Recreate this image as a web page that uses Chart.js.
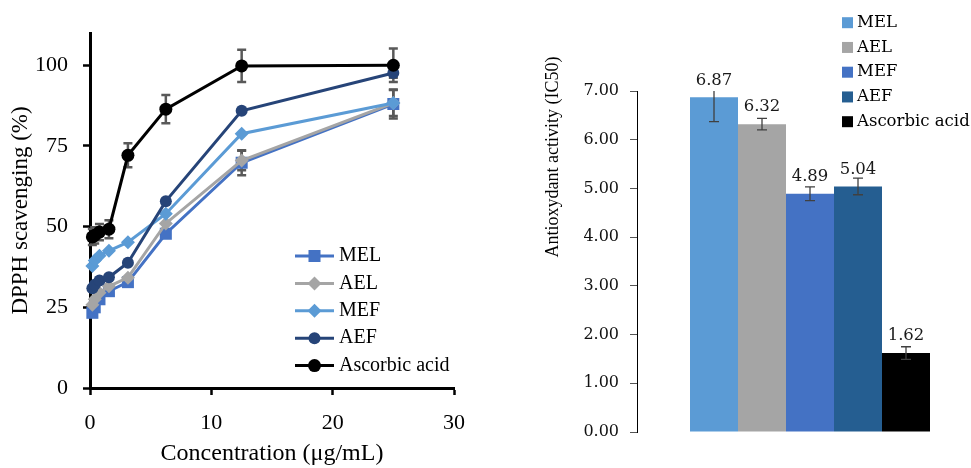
<!DOCTYPE html>
<html>
<head>
<meta charset="utf-8">
<script src="https://cdn.jsdelivr.net/npm/chart.js@4.4.0/dist/chart.umd.min.js"></script>
<style>
  html, body { margin: 0; padding: 0; background: #fff; width: 971px; height: 468px; overflow: hidden; }
  #dpph { position: absolute; left: 0; top: 0; }
  #ic50 { position: absolute; left: 530px; top: 0; }
</style>
</head>
<body>
<canvas id="dpph" width="480" height="468"></canvas>
<canvas id="ic50" width="460" height="468"></canvas>
<script>
// ---- DPPH scavenging (%) vs concentration (ug/mL)
var conc = [0.195, 0.39, 0.78, 1.56, 3.125, 6.25, 12.5, 25];
var melPct = [23.3, 25.0, 27.5, 30.0, 32.8, 47.8, 69.8, 88.0];
var aelPct = [25.8, 27.5, 29.5, 31.5, 34.2, 51.0, 70.5, 88.3];
var mefPct = [37.8, 39.5, 41.0, 42.5, 45.2, 54.0, 78.8, 88.3];
var aefPct = [30.9, 32.0, 33.3, 34.3, 38.8, 57.9, 85.9, 97.6];
var ascPct = [46.8, 47.3, 48.3, 49.2, 72.1, 86.4, 99.8, 100.0];
var melErr = [0, 0, 0, 0, 0, 0, 3.9, 4.5];
var aelErr = [0, 0, 0, 0, 0, 0, 3.0, 4.0];
var mefErr = [0, 0, 0, 0, 0, 0, 0, 0];
var aefErr = [0, 0, 0, 0, 0, 0, 0, 1.5];
var ascErr = [2.5, 2.5, 2.5, 2.8, 3.7, 4.4, 5.0, 5.2];
var dpphTicks = [0, 25, 50, 75, 100];

// ---- IC50 bars
var extracts = ['MEL', 'AEL', 'MEF', 'AEF', 'Ascorbic acid'];
var ic50 = [6.87, 6.32, 4.89, 5.04, 1.62];
var ic50Err = [0.5, 0.12, 0.14, 0.17, 0.13];
var barColors = ['#5B9BD5', '#A5A5A5', '#4472C4', '#255E91', '#000000'];

var serif = 'Liberation Serif, Times New Roman, serif';
var serif2 = 'DejaVu Serif, serif';

function pts(ys) {
  return conc.map(function (c, i) { return { x: c, y: ys[i] }; });
}

// error bars drawn through the chart's own scales
var errorBars = {
  id: 'errorBars',
  draw: function (chart, opts) {
    var ctx = chart.ctx, y = chart.scales.y, a = chart.chartArea;
    ctx.save();
    if (opts.clip) {
      ctx.beginPath();
      ctx.rect(a.left - 20, a.top, a.right - a.left + 40, a.bottom - a.top);
      ctx.clip();
    }
    ctx.strokeStyle = opts.color;
    ctx.lineWidth = opts.lineWidth;
    chart.data.datasets.forEach(function (ds, di) {
      if (!ds.errorBars) return;
      var meta = chart.getDatasetMeta(di);
      meta.data.forEach(function (el, i) {
        var e = ds.errorBars[i];
        if (!e) return;
        var v = typeof ds.data[i] === 'object' ? ds.data[i].y : ds.data[i];
        var t = y.getPixelForValue(v + e), b = y.getPixelForValue(v - e);
        var c = opts.cap / 2;
        ctx.beginPath();
        ctx.moveTo(el.x, t); ctx.lineTo(el.x, b);
        ctx.moveTo(el.x - c, t); ctx.lineTo(el.x + c, t);
        ctx.moveTo(el.x - c, b); ctx.lineTo(el.x + c, b);
        ctx.stroke();
      });
    });
    ctx.restore();
  },
  beforeDatasetsDraw: function (chart, args, opts) { if (opts.layer === 'before') this.draw(chart, opts); },
  afterDatasetsDraw: function (chart, args, opts) { if (opts.layer !== 'before') this.draw(chart, opts); }
};

// legend drawn at a fixed place (inside plot / top right)
var placedLegend = {
  id: 'placedLegend',
  afterDraw: function (chart, args, o) {
    var ctx = chart.ctx;
    ctx.save();
    chart.data.datasets.forEach(function (ds, i) {
      var cy = o.y + i * o.step;
      if (o.kind === 'line') {
        ctx.strokeStyle = ds.borderColor;
        ctx.lineWidth = 3;
        ctx.beginPath();
        ctx.moveTo(o.x, cy); ctx.lineTo(o.x + o.len, cy);
        ctx.stroke();
        ctx.fillStyle = ds.backgroundColor;
        Chart.helpers.drawPoint(ctx, { pointStyle: ds.pointStyle, radius: ds.pointRadius, rotation: 0, borderWidth: 0 }, o.x + o.len / 2, cy);
      } else {
        ctx.fillStyle = ds.backgroundColor;
        ctx.fillRect(o.x, cy - o.box / 2, o.box, o.box);
      }
      ctx.fillStyle = '#000';
      ctx.font = o.font;
      ctx.textAlign = 'left';
      ctx.textBaseline = 'middle';
      ctx.fillText(ds.label, o.textX, cy);
    });
    ctx.restore();
  }
};

// values above bars
var barValues = {
  id: 'barValues',
  afterDatasetsDraw: function (chart, args, o) {
    var ctx = chart.ctx;
    ctx.save();
    ctx.font = o.font;
    ctx.fillStyle = '#1a1a1a';
    ctx.textAlign = 'center';
    ctx.textBaseline = 'middle';
    chart.data.datasets.forEach(function (ds, di) {
      var el = chart.getDatasetMeta(di).data[0];
      ctx.fillText(ds.data[0].toFixed(2), el.x, el.y - o.offset);
    });
    ctx.restore();
  }
};

// y title placed freely (Excel puts it off-centre)
var sideTitle = {
  id: 'sideTitle',
  afterDraw: function (chart, args, o) {
    var ctx = chart.ctx;
    ctx.save();
    ctx.translate(o.x, o.y);
    ctx.rotate(-Math.PI / 2);
    ctx.font = o.font;
    ctx.fillStyle = '#000';
    ctx.textAlign = 'center';
    ctx.textBaseline = 'middle';
    ctx.fillText(o.text, 0, 0);
    ctx.restore();
  }
};

function lineSet(label, ys, errs, color, style, r, order) {
  return {
    label: label, data: pts(ys), errorBars: errs,
    borderColor: color, backgroundColor: color,
    pointStyle: style, pointRadius: r, pointBorderWidth: 0,
    borderWidth: 3, tension: 0, clip: false, order: order
  };
}

new Chart(document.getElementById('dpph'), {
  type: 'line',
  data: {
    datasets: [
      lineSet('MEL', melPct, melErr, '#4472C4', 'rect', 8.5, 4),
      lineSet('AEL', aelPct, aelErr, '#A5A5A5', 'rectRot', 7, 3),
      lineSet('MEF', mefPct, mefErr, '#5B9BD5', 'rectRot', 7, 2),
      lineSet('AEF', aefPct, aefErr, '#264478', 'circle', 6, 1),
      lineSet('Ascorbic acid', ascPct, ascErr, '#000000', 'circle', 6.5, 0)
    ]
  },
  options: {
    responsive: false,
    animation: false,
    layout: { padding: { left: 0, top: 33, right: 24, bottom: 0 } },
    plugins: {
      legend: { display: false },
      tooltip: { enabled: false },
      errorBars: { color: '#595959', lineWidth: 2.5, cap: 9, layer: 'before' },
      placedLegend: { kind: 'line', x: 295, y: 256, step: 27.4, len: 39, textX: 339, font: '20px ' + serif }
    },
    scales: {
      x: {
        type: 'linear', min: 0, max: 30,
        afterFit: function (s) { s.height = 80; },
        ticks: { stepSize: 10, font: { family: serif, size: 22 }, color: '#000', padding: 15 },
        grid: { drawOnChartArea: false, tickLength: 7, color: '#000', tickWidth: 2.5 },
        border: { display: true, color: '#000', width: 3 },
        title: { display: true, text: 'Concentration (μg/mL)', font: { family: serif, size: 24 }, color: '#000', padding: { top: 4, bottom: 0 } }
      },
      y: {
        min: 0, max: 110,
        afterFit: function (s) { s.width = 90; },
        afterBuildTicks: function (s) { s.ticks = dpphTicks.map(function (v) { return { value: v }; }); },
        ticks: { font: { family: serif, size: 22 }, color: '#000', padding: 15 },
        grid: { drawOnChartArea: false, tickLength: 7, color: '#000', tickWidth: 2.5 },
        border: { display: true, color: '#000', width: 3 },
        title: { display: true, text: 'DPPH scavenging (%)', font: { family: serif, size: 23 }, color: '#000', padding: { top: 7, bottom: 0 } }
      }
    }
  },
  plugins: [errorBars, placedLegend]
});

new Chart(document.getElementById('ic50'), {
  type: 'bar',
  data: {
    labels: [''],
    datasets: extracts.map(function (name, i) {
      return { label: name, data: [ic50[i]], errorBars: [ic50Err[i]], backgroundColor: barColors[i], borderWidth: 0 };
    })
  },
  options: {
    responsive: false,
    animation: false,
    layout: { padding: { left: 0, top: 91, right: 7, bottom: 36 } },
    datasets: { bar: { categoryPercentage: 240 / 346, barPercentage: 1 } },
    plugins: {
      legend: { display: false },
      tooltip: { enabled: false },
      errorBars: { color: '#404040', lineWidth: 1.3, cap: 10, clip: true },
      placedLegend: { kind: 'box', x: 312, y: 22.7, step: 24.75, box: 11, textX: 327, font: '16.5px ' + serif2 },
      barValues: { offset: 17, font: '16.5px ' + serif2 },
      sideTitle: { x: 23, y: 157, text: 'Antioxydant activity (IC50)', font: '18px ' + serif }
    },
    scales: {
      x: { display: false },
      y: {
        min: 0, max: 7,
        afterFit: function (s) { s.width = 107; },
        ticks: { stepSize: 1, font: { family: serif2, size: 16 }, color: '#111', padding: 11,
                 callback: function (v) { return v.toFixed(2); } },
        grid: { drawOnChartArea: false, tickLength: 7, color: '#555', tickWidth: 1 },
        border: { display: true, color: '#000', width: 1 }
      }
    }
  },
  plugins: [errorBars, placedLegend, barValues, sideTitle]
});
</script>
</body>
</html>
